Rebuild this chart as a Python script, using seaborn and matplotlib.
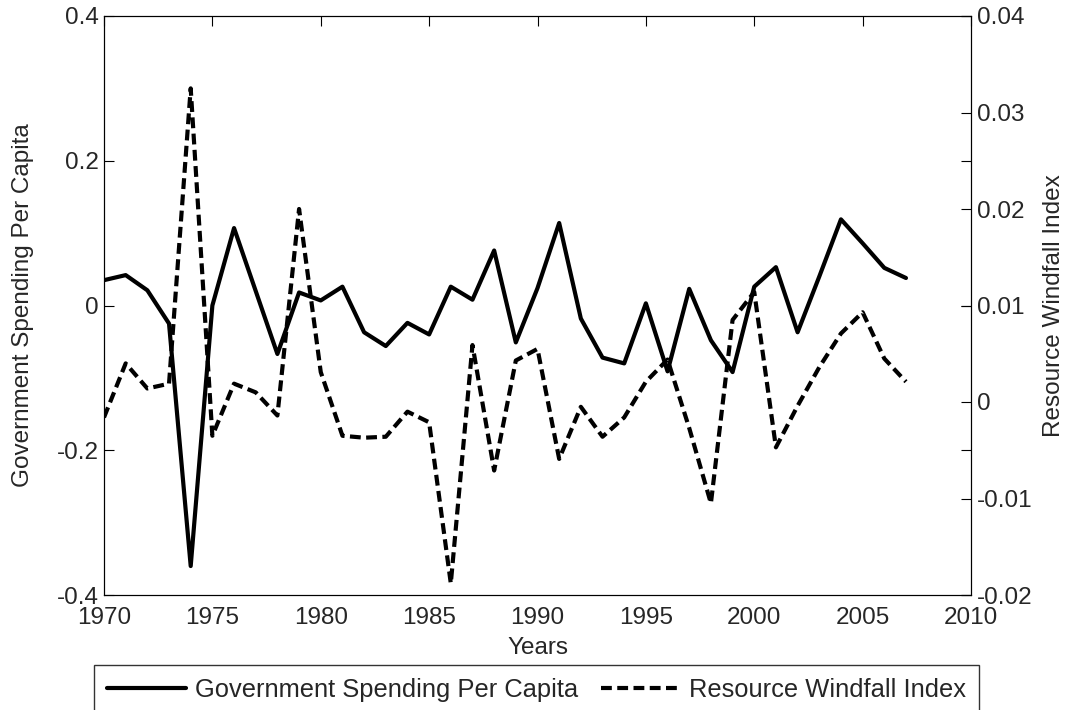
import matplotlib
matplotlib.use("Agg")
import matplotlib.pyplot as plt
import seaborn as sns
import pandas as pd

years = list(range(1970, 2008))
gov_spending = [0.035, 0.042, 0.021, -0.025, -0.360, 0.000, 0.107, 0.020, -0.067, 0.018,
                0.007, 0.026, -0.037, -0.056, -0.024, -0.040, 0.026, 0.008, 0.076, -0.051,
                0.024, 0.114, -0.018, -0.072, -0.080, 0.003, -0.091, 0.023, -0.048, -0.092,
                0.026, 0.053, -0.037, 0.040, 0.119, 0.086, 0.052, 0.038]
windfall = [-0.0016, 0.0040, 0.0014, 0.0019, 0.0325, -0.0035, 0.0019, 0.0010, -0.0014, 0.0200,
            0.0031, -0.0035, -0.0037, -0.0036, -0.0010, -0.0021, -0.0188, 0.0059, -0.0071, 0.0043,
            0.0055, -0.0059, -0.0005, -0.0036, -0.0016, 0.0021, 0.0044, -0.0027, -0.0105, 0.0085,
            0.0114, -0.0047, -0.0004, 0.0036, 0.0071, 0.0093, 0.0045, 0.0021]

x_ticks = [1970, 1975, 1980, 1985, 1990, 1995, 2000, 2005, 2010]
left_ticks = [0.4, 0.2, 0.0, -0.2, -0.4]
left_labels = ["0.4", "0.2", "0", "-0.2", "-0.4"]
right_ticks = [0.04, 0.03, 0.02, 0.01, 0.0, -0.01, -0.02]
right_labels = ["0.04", "0.03", "0.02", "0.01", "0", "-0.01", "-0.02"]

df = pd.DataFrame({"Years": years, "gov": gov_spending, "wf": windfall})

sns.set_style("white")
plt.rcParams["font.family"] = ["Liberation Sans", "DejaVu Sans"]
FS = 17.5
FS_LEG = 18.4

fig = plt.figure(figsize=(10.71, 7.10), dpi=100)
ax = fig.add_axes([104/1071, 1-595/710, (971-104)/1071, (595-16)/710])
ax2 = ax.twinx()

sns.lineplot(data=df, x="Years", y="gov", ax=ax, color="black", linewidth=3,
             label="Government Spending Per Capita", legend=False)
sns.lineplot(data=df, x="Years", y="wf", ax=ax2, color="black", linewidth=3,
             dashes=False, label="Resource Windfall Index", legend=False)
ax2.lines[0].set_dashes((2.6, 1.3))

ax.set_xlim(1970, 2010)
ax.set_ylim(-0.4, 0.4)
ax2.set_ylim(-0.02, 0.04)
ax.set_xticks(x_ticks)
ax.set_xticklabels([str(t) for t in x_ticks], fontsize=FS)
ax.set_yticks(left_ticks)
ax.set_yticklabels(left_labels, fontsize=FS)
ax2.set_yticks(right_ticks)
ax2.set_yticklabels(right_labels, fontsize=FS)

ax.tick_params(axis="both", direction="in", length=7, width=0.8, top=True, right=True,
               labelright=False, color="black", pad=4)
ax.tick_params(axis="x", pad=8.5)
ax2.tick_params(axis="y", direction="in", length=7, width=0.8, color="black", pad=4)

for a in (ax, ax2):
    for s in a.spines.values():
        s.set_color("black")
        s.set_linewidth(0.8)

ax.set_xlabel("Years", fontsize=FS, labelpad=6)
ax.set_ylabel("Government Spending Per Capita", fontsize=FS, labelpad=16)
ax2.set_ylabel("Resource Windfall Index", fontsize=FS, labelpad=8)

h1, l1 = ax.get_legend_handles_labels()
h2, l2 = ax2.get_legend_handles_labels()
leg = fig.legend(h1 + h2, l1 + l2, loc="upper left", ncol=2,
                 bbox_to_anchor=(94/1071, 1-665/710),
                 fontsize=FS_LEG, frameon=True, fancybox=False,
                 edgecolor="black", handlelength=3.1, handletextpad=0.35,
                 borderpad=0.5, borderaxespad=0, columnspacing=0.9)
leg.get_frame().set_linewidth(1.0)

fig.savefig("out.png", dpi=100)
